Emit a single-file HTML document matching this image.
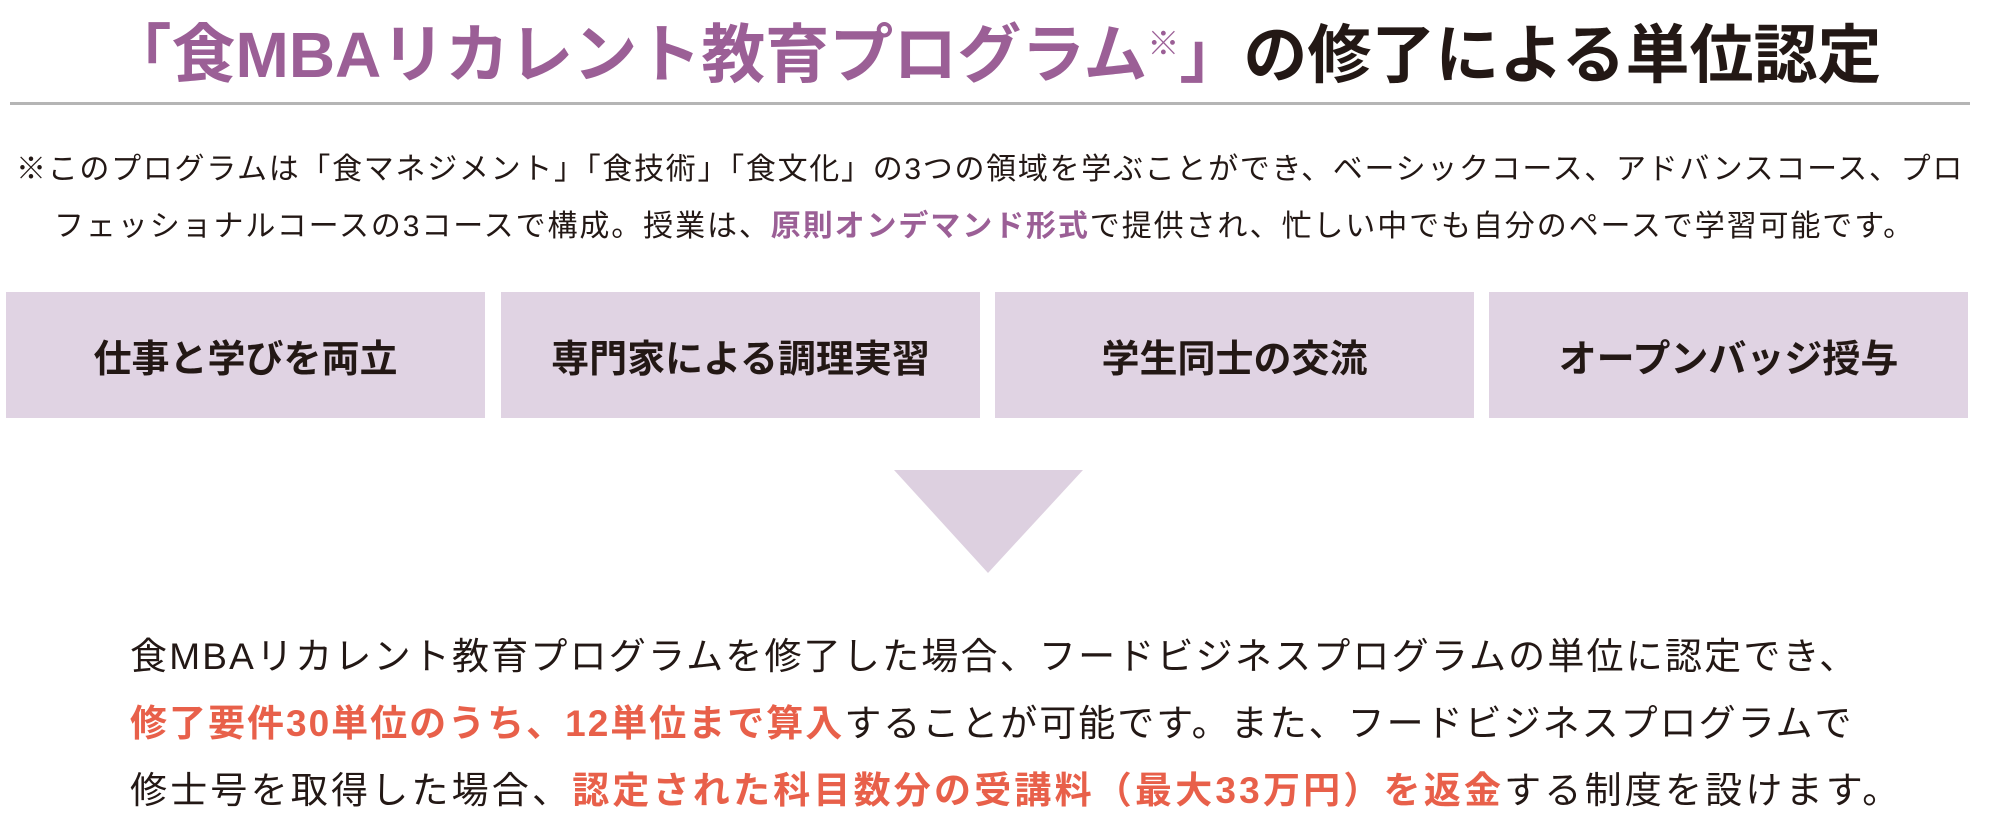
<!DOCTYPE html>
<html><head><meta charset="utf-8"><style>
html,body{margin:0;padding:0;background:#fff;}
body{width:1989px;height:822px;position:relative;overflow:hidden;font-family:"Liberation Sans","Noto Sans CJK JP",sans-serif;color:#231815;}
.a{position:absolute;white-space:nowrap;}
.p{color:#9b5f96;}
.o{color:#e8604a;font-weight:bold;}
.title{left:0;width:1989px;text-align:center;top:4px;font-size:64px;font-weight:bold;line-height:80px;}
.rule{left:10px;top:102px;width:1960px;height:3px;background:#b5b5b5;}
.note{font-size:30px;line-height:40px;letter-spacing:1.7px;}
.box{position:absolute;top:292px;height:126px;width:479px;background:#e0d3e3;display:flex;align-items:center;justify-content:center;font-size:38px;font-weight:bold;}
.body{left:130px;font-size:37px;line-height:50px;letter-spacing:2.2px;}
</style></head><body>
<div class="a title"><span class="p">「食MBAリカレント教育プログラム<sup style="font-size:32px;font-weight:normal">※</sup>」</span>の修了による単位認定</div>
<div class="a rule"></div>
<div class="a note" style="left:16px;top:150px;">※このプログラムは「食マネジメント」「食技術」「食文化」の3つの領域を学ぶことができ、ベーシックコース、アドバンスコース、プロ</div>
<div class="a note" style="left:54px;top:207px;letter-spacing:1.9px;">フェッショナルコースの3コースで構成。授業は、<b class="p">原則オンデマンド形式</b>で提供され、忙しい中でも自分のペースで学習可能です。</div>
<div class="box" style="left:6px;">仕事と学びを両立</div>
<div class="box" style="left:501px;">専門家による調理実習</div>
<div class="box" style="left:995px;">学生同士の交流</div>
<div class="box" style="left:1489px;">オープンバッジ授与</div>
<svg class="a" style="left:0;top:0" width="1989" height="822"><polygon points="894,470 1083,470 988,573" fill="#ddd0e0"/></svg>
<div class="a body" style="top:632px;">食MBAリカレント教育プログラムを修了した場合、フードビジネスプログラムの単位に認定でき、</div>
<div class="a body" style="top:699px;letter-spacing:2px;"><span class="o">修了要件30単位のうち、12単位まで算入</span>することが可能です。また、フードビジネスプログラムで</div>
<div class="a body" style="top:766px;letter-spacing:3.2px;">修士号を取得した場合、<span class="o">認定された科目数分の受講料（最大33万円）を返金</span>する制度を設けます。</div>
</body></html>
